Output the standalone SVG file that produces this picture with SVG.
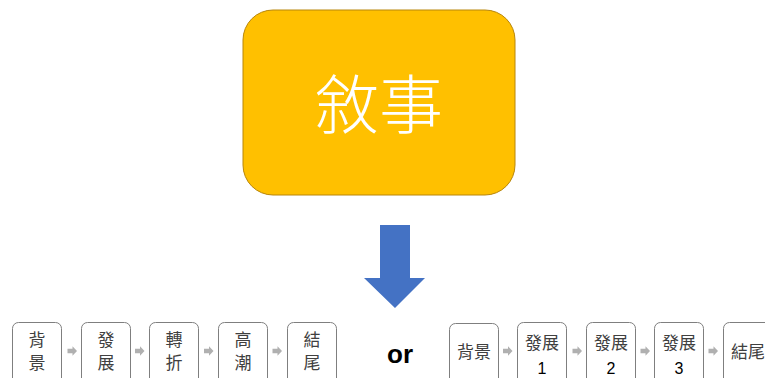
<svg xmlns="http://www.w3.org/2000/svg" width="765" height="378" viewBox="0 0 765 378">
<defs>
<style>
.box{fill:#fff;stroke:#7f7f7f;stroke-width:1}
.t{font-family:"Noto Sans CJK TC","Noto Sans CJK SC",sans-serif;font-size:17px;fill:#404040;text-anchor:middle}
.n{font-family:"Liberation Sans","Noto Sans",sans-serif;font-size:16px;fill:#000;text-anchor:middle}
.sa{fill:#b0b0b0}
</style>
<polygon id="sa" points="-4.5,-2.2 0.5,-2.2 0.5,-4.8 5,0 0.5,4.8 0.5,2.2 -4.5,2.2"/>
</defs>
<rect width="765" height="378" fill="#fff"/>
<g id="main">
<rect x="243" y="10" width="272" height="185" rx="30" ry="30" fill="#ffc000" stroke="#b8860b" stroke-width="1"/>
<text x="379" y="128" font-family="Noto Sans CJK TC,Noto Sans CJK SC,sans-serif" font-weight="300" font-size="64" fill="#fff" text-anchor="middle">敘事</text>
</g>
<g id="connectors">
<polygon points="380,225 410,225 410,278 425,278 395,308 364,278 380,278" fill="#4472c4"/>
<g class="sa">
<use href="#sa" x="72" y="351"/>
<use href="#sa" x="139.5" y="351"/>
<use href="#sa" x="208.5" y="351"/>
<use href="#sa" x="277" y="351"/>
<use href="#sa" x="507.5" y="351"/>
<use href="#sa" x="577" y="351"/>
<use href="#sa" x="645" y="351"/>
<use href="#sa" x="713" y="351"/>
</g>
</g>
<g id="l1"><rect class="box" x="12.5" y="322.5" width="49" height="70" rx="6"/><text class="t" x="37" y="346">背</text><text class="t" x="37" y="369">景</text></g>
<g id="l2"><rect class="box" x="81.5" y="322.5" width="49" height="70" rx="6"/><text class="t" x="106" y="346">發</text><text class="t" x="106" y="369">展</text></g>
<g id="l3"><rect class="box" x="149.5" y="322.5" width="49" height="70" rx="6"/><text class="t" x="174" y="346">轉</text><text class="t" x="174" y="369">折</text></g>
<g id="l4"><rect class="box" x="218.5" y="322.5" width="49" height="70" rx="6"/><text class="t" x="243" y="346">高</text><text class="t" x="243" y="369">潮</text></g>
<g id="l5"><rect class="box" x="287.5" y="322.5" width="49" height="70" rx="6"/><text class="t" x="312" y="346">結</text><text class="t" x="312" y="369">尾</text></g>
<g id="or"><text x="400" y="363" font-family="Liberation Sans,Arial,sans-serif" font-weight="bold" font-size="26" fill="#000" text-anchor="middle">or</text></g>
<g id="r1"><rect class="box" x="449.5" y="323.5" width="49" height="70" rx="6"/><text class="t" x="474" y="358">背景</text></g>
<g id="r2"><rect class="box" x="517.5" y="322.5" width="49" height="70" rx="6"/><text class="t" x="542" y="349">發展</text><text class="n" x="542" y="374">1</text></g>
<g id="r3"><rect class="box" x="586.5" y="322.5" width="49" height="70" rx="6"/><text class="t" x="611" y="349">發展</text><text class="n" x="611" y="374">2</text></g>
<g id="r4"><rect class="box" x="654.5" y="322.5" width="49" height="70" rx="6"/><text class="t" x="679" y="349">發展</text><text class="n" x="679" y="374">3</text></g>
<g id="r5"><rect class="box" x="723.5" y="322.5" width="49" height="70" rx="6"/><text class="t" x="748" y="358">結尾</text></g>
</svg>
